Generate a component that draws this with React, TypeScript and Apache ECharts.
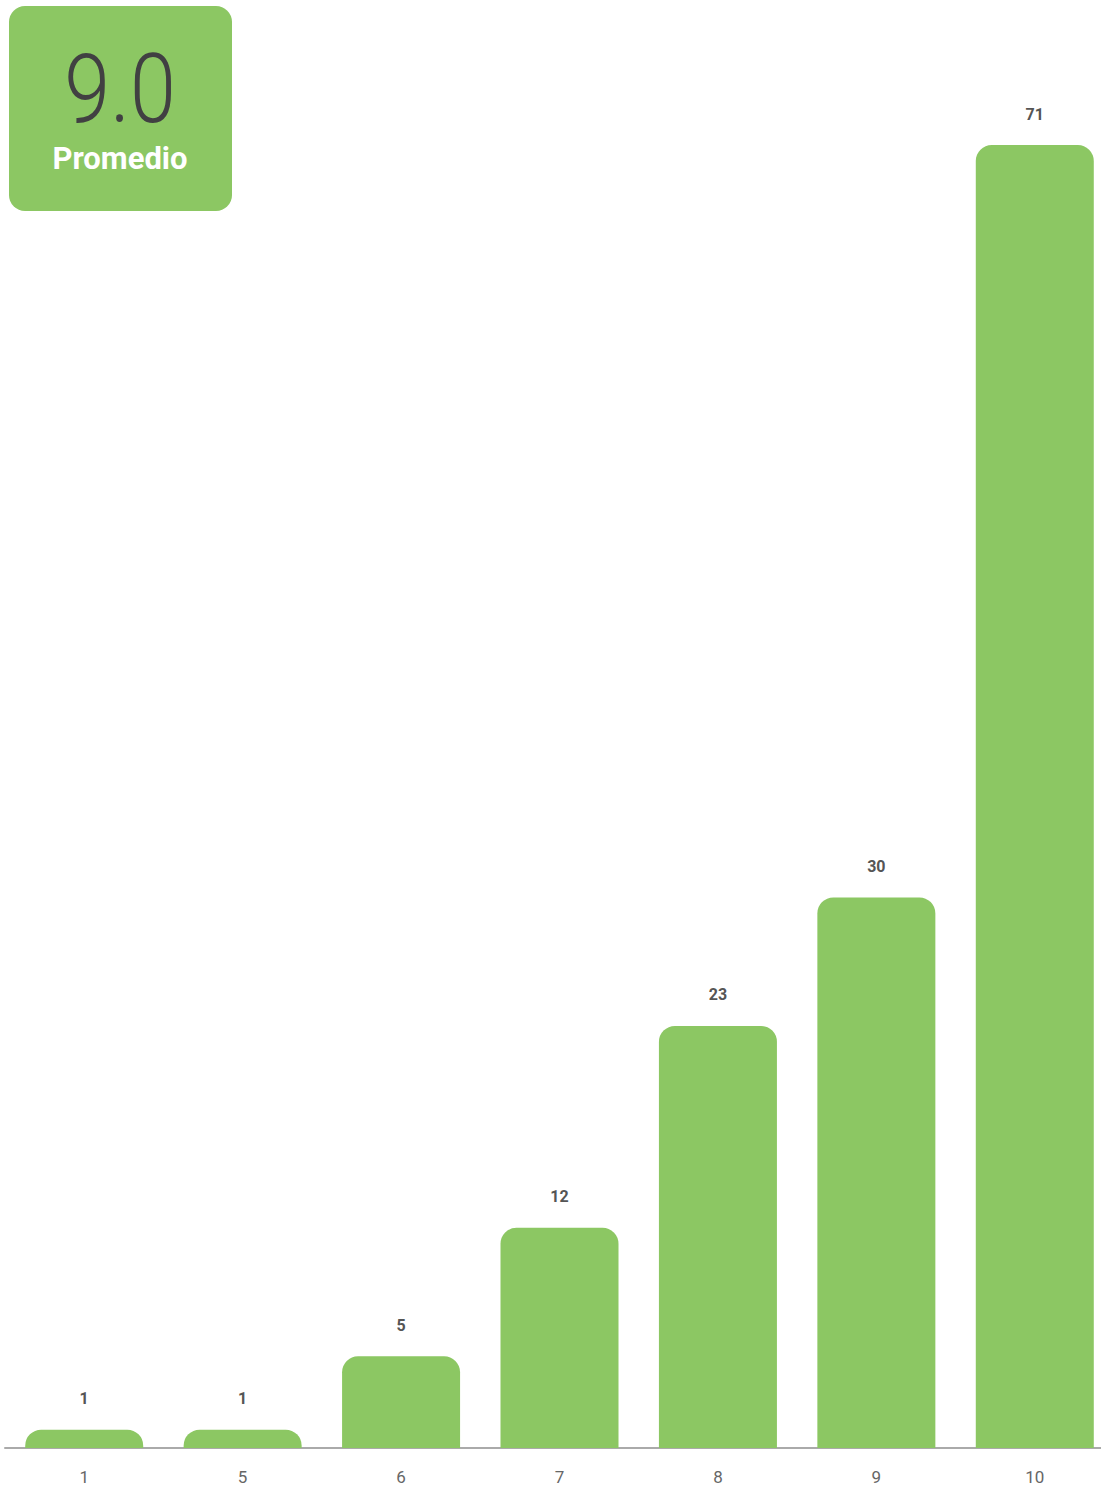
import React, { useEffect, useRef } from "react";
import * as echarts from "echarts";

const categories = ["1", "5", "6", "7", "8", "9", "10"];
const counts = [1, 1, 5, 12, 23, 30, 71];
const averageText = "9.0";
const averageLabel = "Promedio";

const GREEN = "#8cc763";

export default function App() {
  const ref = useRef<HTMLDivElement>(null);
  useEffect(() => {
    if (!ref.current) return;
    const chart = echarts.init(ref.current, undefined, { renderer: "svg" });
    chart.setOption({
      animation: false,
      grid: { left: 5, right: 5, top: 145, bottom: 43, containLabel: false },
      xAxis: {
        type: "category",
        data: categories,
        axisLine: { show: true, lineStyle: { color: "#aaaaaa", width: 2 } },
        axisTick: { show: false },
        axisLabel: {
          color: "#666666",
          fontSize: 17,
          margin: 20,
          fontFamily: "Roboto, 'DejaVu Sans', sans-serif",
        },
      },
      yAxis: {
        type: "value",
        min: 0,
        max: 71,
        show: false,
        splitLine: { show: false },
      },
      series: [
        {
          type: "bar",
          data: counts,
          barWidth: 118,
          itemStyle: { color: GREEN, borderRadius: [16, 16, 0, 0] },
          label: {
            show: true,
            position: "top",
            distance: 23,
            color: "#555555",
            fontSize: 16,
            fontWeight: "bold",
            fontFamily: "Roboto, 'DejaVu Sans', sans-serif",
          },
        },
      ],
      graphic: [
        {
          type: "rect",
          shape: { x: 9, y: 6, width: 223, height: 205, r: 16 },
          style: { fill: GREEN },
          z: 10,
        },
        {
          type: "text",
          x: 120,
          y: 89,
          scaleX: 0.86,
          style: {
            text: averageText,
            fill: "#414042",
            font: "300 96px Roboto, 'DejaVu Sans', sans-serif",
            lineHeight: 80,
            align: "center",
            verticalAlign: "middle",
          },
          z: 11,
        },
        {
          type: "text",
          x: 120,
          y: 158,
          style: {
            text: averageLabel,
            fill: "#ffffff",
            font: "bold 31px Roboto, 'DejaVu Sans', sans-serif",
            lineHeight: 32,
            align: "center",
            verticalAlign: "middle",
          },
          z: 11,
        },
      ],
    });
    return () => chart.dispose();
  }, []);

  return (
    <div style={{ position: "absolute", left: 0, top: 0, width: 1101, height: 1491, overflow: "hidden" }}>
      <div ref={ref} style={{ position: "absolute", left: 0, top: 0, width: 1119, height: 1491 }} />
    </div>
  );
}
